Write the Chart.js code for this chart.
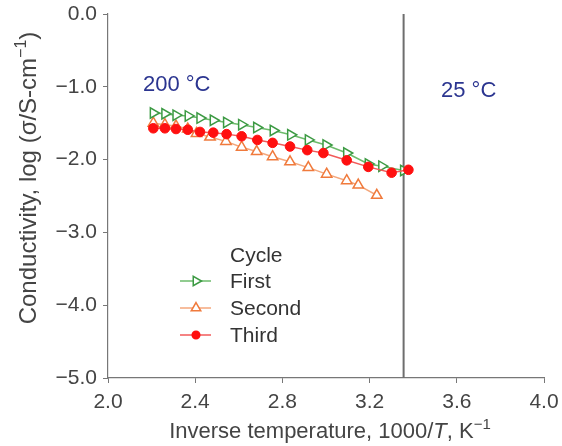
<!DOCTYPE html>
<html>
<head>
<meta charset="utf-8">
<script src="https://cdn.jsdelivr.net/npm/chart.js@4/dist/chart.umd.min.js"></script>
<style>
  html, body { margin: 0; padding: 0; background: #fff; }
  #wrap { width: 562px; height: 446px; }
</style>
</head>
<body>
<div id="wrap"><canvas id="plot" width="562" height="446"></canvas></div>
<script>
// values
var firstX  = [2.208, 2.261, 2.312, 2.368, 2.422, 2.483, 2.544, 2.613, 2.682, 2.758, 2.838, 2.919, 3.000, 3.095, 3.194, 3.256, 3.356];
var firstY  = [-1.36, -1.37, -1.39, -1.40, -1.43, -1.46, -1.49, -1.52, -1.56, -1.60, -1.66, -1.73, -1.80, -1.91, -2.06, -2.09, -2.15];
var secondX = [2.208, 2.261, 2.312, 2.366, 2.406, 2.468, 2.541, 2.613, 2.682, 2.755, 2.835, 2.919, 3.003, 3.095, 3.148, 3.233];
var secondY = [-1.50, -1.52, -1.54, -1.58, -1.64, -1.69, -1.75, -1.83, -1.89, -1.96, -2.03, -2.11, -2.20, -2.29, -2.35, -2.49];
var thirdX  = [2.208, 2.261, 2.312, 2.366, 2.422, 2.483, 2.544, 2.613, 2.685, 2.755, 2.835, 2.914, 2.988, 3.095, 3.194, 3.301, 3.378];
var thirdY  = [-1.57, -1.57, -1.58, -1.59, -1.62, -1.63, -1.65, -1.68, -1.73, -1.77, -1.82, -1.87, -1.91, -2.01, -2.10, -2.18, -2.14];
var roomX = 3.356;            // 25 °C line
var xTicks = [2.0, 2.4, 2.8, 3.2, 3.6, 4.0];
var yTicks = [0, -1, -2, -3, -4, -5];
var seriesNames = ['First', 'Second', 'Third'];

function pts(xs, ys) {
  var out = [];
  for (var i = 0; i < xs.length; i++) out.push({x: xs[i], y: ys[i]});
  return out;
}
function fmt(v) {
  var s = Math.abs(v).toFixed(1);
  return v < 0 ? '\u2212' + s : s;
}

var green = '#3c9a43', greenLine = '#6dbb6b';
var orange = '#f07a3c', orangeLine = '#f4a77c';
var red = '#ff1010', redLine = '#f25a5a';
var fontFam = '"Liberation Sans", Arial, sans-serif';
var FS = 21;

var styles = [
  {color: green, line: greenLine, pointStyle: 'triangle', rotation: 90, fill: '#fff', radius: 6, lr: 5.5},
  {color: orange, line: orangeLine, pointStyle: 'triangle', rotation: 0, fill: '#fff', radius: 6, lr: 5.5},
  {color: red, line: redLine, pointStyle: 'circle', rotation: 0, fill: red, radius: 4.8, lr: 3.8}
];

var extras = {
  id: 'extras',
  afterDraw: function (chart) {
    var ctx = chart.ctx;
    ctx.save();
    // annotations
    ctx.fillStyle = '#2b3590';
    ctx.font = '22px ' + fontFam;
    ctx.textBaseline = 'middle';
    ctx.textAlign = 'left';
    ctx.fillText('200 \u00B0C', 143, 85);
    ctx.fillText('25 \u00B0C', 441, 91);

    // legend
    ctx.fillStyle = '#333';
    ctx.font = FS + 'px ' + fontFam;
    ctx.fillText('Cycle', 230, 256);
    var ly = [281, 308, 335];
    for (var i = 0; i < 3; i++) {
      var st = styles[i];
      ctx.strokeStyle = st.line;
      ctx.lineWidth = 1.5;
      ctx.beginPath();
      ctx.moveTo(180, ly[i]);
      ctx.lineTo(211, ly[i]);
      ctx.stroke();
      ctx.strokeStyle = st.color;
      ctx.fillStyle = st.fill;
      Chart.helpers.drawPoint(ctx, {pointStyle: st.pointStyle, rotation: st.rotation, radius: st.lr, borderWidth: 1.5}, 196, ly[i]);
      ctx.fillStyle = '#333';
      ctx.fillText(seriesNames[i], 230, ly[i] + 1);
    }

    // axis titles
    ctx.fillStyle = '#444';
    ctx.textBaseline = 'alphabetic';
    var XF = 22, XS = 15;
    var t1 = 'Inverse temperature, 1000/';
    ctx.font = XF + 'px ' + fontFam;
    var w1 = ctx.measureText(t1).width;
    var w3 = ctx.measureText(', K').width;
    ctx.font = 'italic ' + XF + 'px ' + fontFam;
    var w2 = ctx.measureText('T').width;
    ctx.font = XS + 'px ' + fontFam;
    var w4 = ctx.measureText('\u22121').width;
    var x0 = 330 - (w1 + w2 + w3 + w4) / 2, by = 438;
    ctx.font = XF + 'px ' + fontFam;
    ctx.fillText(t1, x0, by);
    ctx.font = 'italic ' + XF + 'px ' + fontFam;
    ctx.fillText('T', x0 + w1, by);
    ctx.font = XF + 'px ' + fontFam;
    ctx.fillText(', K', x0 + w1 + w2, by);
    ctx.font = XS + 'px ' + fontFam;
    ctx.fillText('\u22121', x0 + w1 + w2 + w3, by - 9);

    // y title, rotated
    var YF = 24, YS = 16;
    ctx.save();
    ctx.translate(36, 178);
    ctx.rotate(-Math.PI / 2);
    ctx.font = YF + 'px ' + fontFam;
    var a = 'Conductivity, log (\u03C3/S-cm';
    var wa = ctx.measureText(a).width;
    var wc = ctx.measureText(')').width;
    ctx.font = YS + 'px ' + fontFam;
    var wb = ctx.measureText('\u22121').width;
    var sx = -(wa + wb + wc) / 2;
    ctx.font = YF + 'px ' + fontFam;
    ctx.fillText(a, sx, 0);
    ctx.fillText(')', sx + wa + wb, 0);
    ctx.font = YS + 'px ' + fontFam;
    ctx.fillText('\u22121', sx + wa, -10);
    ctx.restore();

    ctx.restore();
  }
};

function lineSet(i, xs, ys, order) {
  var st = styles[i];
  return {
    label: seriesNames[i],
    data: pts(xs, ys),
    borderColor: st.line,
    borderWidth: 1.5,
    pointStyle: st.pointStyle,
    rotation: st.rotation,
    pointRadius: st.radius,
    pointBorderColor: st.color,
    pointBackgroundColor: st.fill,
    pointBorderWidth: i === 2 ? 1 : 1.5,
    tension: 0,
    order: order
  };
}

new Chart(document.getElementById('plot'), {
  type: 'line',
  data: {
    datasets: [
      lineSet(2, thirdX, thirdY, 0),
      lineSet(0, firstX, firstY, 1),
      lineSet(1, secondX, secondY, 2),
      {
        label: '25 C',
        data: [{x: roomX, y: yTicks[0]}, {x: roomX, y: yTicks[yTicks.length - 1]}],
        borderColor: '#6e6e6e',
        borderWidth: 2,
        pointRadius: 0,
        order: 3
      }
    ]
  },
  options: {
    responsive: false,
    animation: false,
    layout: {padding: {top: 14, right: 18, left: 0, bottom: 0}},
    plugins: {legend: {display: false}, tooltip: {enabled: false}},
    scales: {
      x: {
        type: 'linear',
        min: xTicks[0], max: xTicks[xTicks.length - 1],
        afterBuildTicks: function (s) { s.ticks = xTicks.map(function (v) { return {value: v}; }); },
        afterFit: function (s) { s.height = 68; s.paddingLeft = 0; s.paddingRight = 0; },
        grid: {drawOnChartArea: false, tickLength: 5, color: '#777', lineWidth: 1},
        border: {color: '#777', width: 1.2},
        ticks: {
          color: '#444', padding: 7, maxRotation: 0,
          font: {size: FS, family: fontFam},
          callback: function (v) { return fmt(v); }
        }
      },
      y: {
        type: 'linear',
        min: yTicks[yTicks.length - 1], max: yTicks[0],
        afterBuildTicks: function (s) { s.ticks = yTicks.map(function (v) { return {value: v}; }); },
        afterFit: function (s) { s.width = 108; s.paddingTop = 0; s.paddingBottom = 0; },
        grid: {drawOnChartArea: false, tickLength: 5, color: '#777', lineWidth: 1},
        border: {color: '#777', width: 1.2},
        ticks: {
          color: '#444', padding: 6,
          font: {size: FS, family: fontFam},
          callback: function (v) { return fmt(v); }
        }
      }
    }
  },
  plugins: [extras]
});
</script>
</body>
</html>
